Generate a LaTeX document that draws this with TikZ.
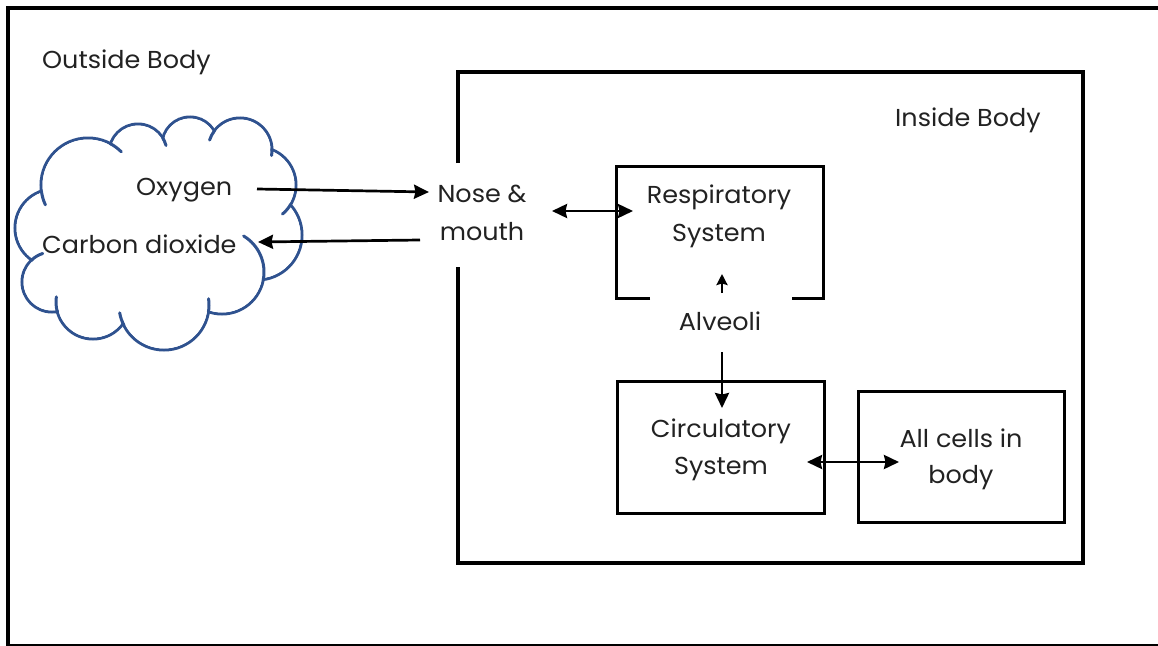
\documentclass[tikz,border=0pt]{standalone}
\usepackage{fontspec}
\setmainfont[FakeStretch=1.04]{Poppins}
\usetikzlibrary{arrows.meta}
\definecolor{cloudblue}{RGB}{47,82,143}
\definecolor{txt}{RGB}{34,34,34}
\begin{document}
\begin{tikzpicture}[x=1pt,y=-1pt,
  lbl/.style={inner sep=0pt, text=txt, font=\fontsize{24.5}{24.5}\selectfont, anchor=base},
  lblw/.style={lbl, anchor=base west},
  frame/.style={line width=4pt},
  boxline/.style={line width=3pt},
  arr/.style={line width=2.7pt, -{Stealth[length=15pt,width=14pt,inset=1.5pt]}},
  darr/.style={line width=2.7pt, {Stealth[length=15pt,width=14pt,inset=1.5pt]}-{Stealth[length=15pt,width=14pt,inset=1.5pt]}},
  cl/.style={draw=cloudblue, line width=3pt}]
\useasboundingbox (0,0) rectangle (1158,645);
% outer frame
\draw[frame] (8,8) rectangle (1172,645.5);
% inner frame (gap at nose & mouth)
\draw[frame] (458,163) -- (458,72) -- (1083,72) -- (1083,563) -- (458,563) -- (458,267);
% cloud
\foreach \cx/\cy/\r in {88/185/47, 138/153/29, 190/145/28, 240/150/32, 258/185/38, 257/235/45, 222/272/42, 164/305/45, 93/302/37, 52/282/30, 54/228/39}
  \draw[cl] (\cx,\cy) circle[radius=\r];
\foreach \cx/\cy/\r in {88/185/47, 138/153/29, 190/145/28, 240/150/32, 258/185/38, 257/235/45, 222/272/42, 164/305/45, 93/302/37, 52/282/30, 54/228/39}
  \fill[white] (\cx,\cy) circle[radius=\r-1.5];
\fill[white] (88,185) -- (138,153) -- (190,145) -- (240,150) -- (258,185) -- (257,235) -- (222,272) -- (164,305) -- (93,302) -- (52,282) -- (54,228) -- cycle;
\foreach \cx/\cy/\r/\ta/\tb in {88/185/47/-62/-45, 88/185/47/172/155, 138/153/29/-31/-15, 240/150/32/-143/-162, 240/150/32/-1/10, 258/185/38/31/50, 222/272/42/11/-59, 164/305/45/9/-8, 164/305/45/153/170, 93/302/37/164/188, 52/282/30/-134/-108}
  \draw[cl, line cap=round] (\cx,\cy) ++(\ta:\r) arc[start angle=\ta, end angle=\tb, radius=\r];
% texts
\node[lblw] (outside) at (42,68) {Outside Body};
\node[lblw] (inside) at (895,126) {Inside Body};
\node[lblw] (ox) at (136,195) {Oxygen};
\node[lblw] (co2) at (42,253) {Carbon dioxide};
\node[lbl] (nose1) at (482,202) {Nose \&};
\node[lbl] (nose2) at (482,240) {mouth};
\node[lbl] (resp1) at (719,203) {Respiratory};
\node[lbl] (resp2) at (719,241) {System};
\node[lbl] (alv) at (720,330) {Alveoli};
\node[lbl] (circ1) at (721,437) {Circulatory};
\node[lbl] (circ2) at (721,474) {System};
\node[lbl] (cells1) at (961,447) {All cells in};
\node[lbl] (cells2) at (961,483) {body};
% boxes
\draw[boxline] (650,298) -- (616,298) -- (616,166) -- (823,166) -- (823,298) -- (792,298);
\node[boxline, draw, minimum width=207pt, minimum height=132pt] (circ) at (720.5,447) {};
\node[boxline, draw, minimum width=206pt, minimum height=131pt] (cells) at (961,456.5) {};
% connectors
\coordinate (oxA) at (257,189);
\coordinate (oxB) at (429,192);
\coordinate (coA) at (420,240);
\coordinate (coB) at (258,242);
\coordinate (nrA) at (552,211);
\coordinate (nrB) at (633,211);
\coordinate (alA) at (722,293);
\coordinate (alB) at (722,274);
\coordinate (acA) at (722,352);
\coordinate (acB) at (722,408);
\coordinate (ccA) at (807,462);
\coordinate (ccB) at (899,462);
\draw[arr] (oxA) -- (oxB);
\draw[arr] (coA) -- (coB);
\draw[darr] (nrA) -- (nrB);
\draw[line width=2.7pt, -{Stealth[length=11pt,width=11pt,inset=1.5pt]}] (alA) -- (alB);
\draw[arr] (acA) -- (acB);
\draw[darr] (ccA) -- (ccB);
\end{tikzpicture}
\end{document}
